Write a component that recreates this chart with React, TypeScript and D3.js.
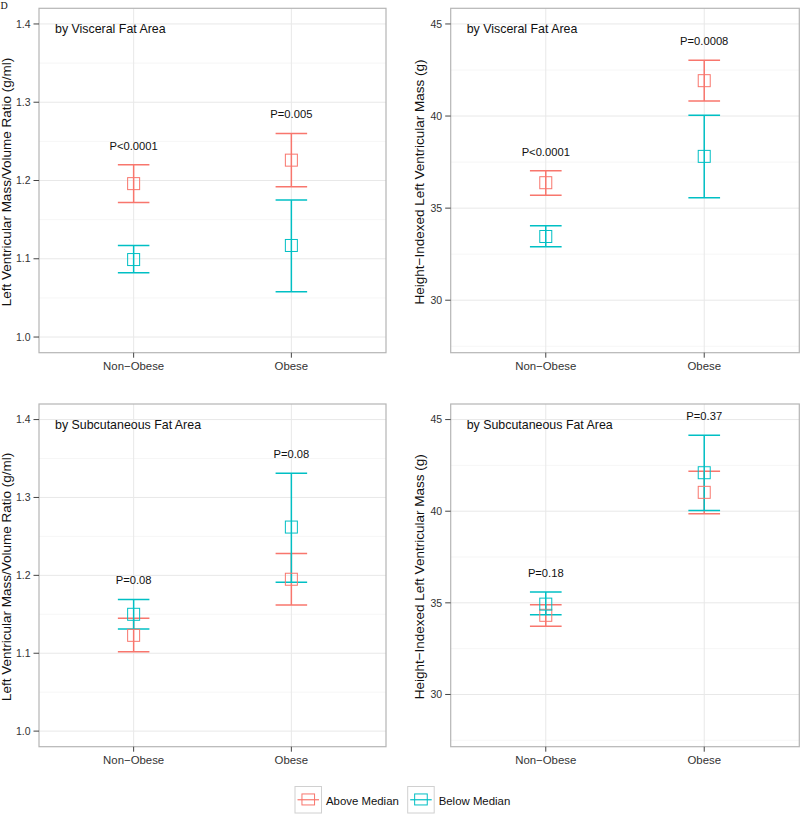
import React from "react";
import * as d3 from "d3";

// ---------- data ----------
const categories = ["Non−Obese", "Obese"];
const groups = ["Above Median", "Below Median"];
const groupColors = ["#F8766D", "#00BFC4"];

// each entry: [lower, mean, upper] for Non-Obese, Obese
const visceralRatioAbove = [[1.172, 1.196, 1.22], [1.192, 1.226, 1.26]];
const visceralRatioBelow = [[1.082, 1.099, 1.117], [1.058, 1.117, 1.175]];
const visceralRatioP = ["P<0.0001", "P=0.005"];

const visceralMassAbove = [[35.7, 36.38, 37.03], [40.82, 41.92, 43.03]];
const visceralMassBelow = [[32.9, 33.46, 34.04], [35.56, 37.81, 40.04]];
const visceralMassP = ["P<0.0001", "P=0.0008"];

const subcutRatioAbove = [[1.102, 1.123, 1.145], [1.162, 1.195, 1.228]];
const subcutRatioBelow = [[1.131, 1.15, 1.169], [1.191, 1.262, 1.331]];
const subcutRatioP = ["P=0.08", "P=0.08"];

const subcutMassAbove = [[33.72, 34.32, 34.9], [39.86, 41.03, 42.18]];
const subcutMassBelow = [[34.35, 34.93, 35.59], [40.04, 42.1, 44.15]];
const subcutMassP = ["P=0.18", "P=0.37"];

const ratioTicks = [1.0, 1.1, 1.2, 1.3, 1.4];
const ratioDomain = [0.98, 1.42];
const massTicks = [30, 35, 40, 45];
const massDomain = [27.15, 45.85];

const ratioTitle = "Left Ventricular Mass/Volume Ratio (g/ml)";
const massTitle = "Height−Indexed Left Ventricular Mass (g)";
const visceralLabel = "by Visceral Fat Area";
const subcutLabel = "by Subcutaneous Fat Area";

const FONT = "'Liberation Sans', Arial, Helvetica, sans-serif";

type PanelProps = {
  left: number;
  right: number;
  top: number;
  bottom: number;
  domain: number[];
  ticks: number[];
  fmt: (v: number) => string;
  title: string;
  titleX: number;
  label: string;
  above: number[][];
  below: number[][];
  pLabels: string[];
};

function Panel(p: PanelProps) {
  const x = d3.scaleLinear().domain([0.4, 2.6]).range([p.left, p.right]);
  const y = d3.scaleLinear().domain(p.domain).range([p.bottom, p.top]);
  const minor: number[] = [];
  const step = p.ticks[1] - p.ticks[0];
  for (let i = -1; i < p.ticks.length; i++) {
    const v = p.ticks[0] + step * (i + 0.5);
    if (v > p.domain[0] && v < p.domain[1]) minor.push(v);
  }
  const series = [p.above, p.below];
  const capHalf = x(1.1) - x(1);
  const sq = 12;
  return (
    <g>
      <rect x={p.left} y={p.top} width={p.right - p.left} height={p.bottom - p.top} fill="#fff" />
      {minor.map((v, i) => (
        <line key={"mn" + i} x1={p.left} x2={p.right} y1={y(v)} y2={y(v)} stroke="#f4f4f4" strokeWidth={0.8} />
      ))}
      {p.ticks.map((v, i) => (
        <line key={"mj" + i} x1={p.left} x2={p.right} y1={y(v)} y2={y(v)} stroke="#e8e8e8" strokeWidth={1} />
      ))}
      {categories.map((c, i) => (
        <line key={"vx" + i} x1={x(i + 1)} x2={x(i + 1)} y1={p.top} y2={p.bottom} stroke="#e8e8e8" strokeWidth={1} />
      ))}
      <rect x={p.left} y={p.top} width={p.right - p.left} height={p.bottom - p.top} fill="none" stroke="#b5b5b5" strokeWidth={1.2} />
      {/* y axis */}
      {p.ticks.map((v, i) => (
        <g key={"yt" + i}>
          <line x1={p.left - 5.5} x2={p.left} y1={y(v)} y2={y(v)} stroke="#444" strokeWidth={1} />
          <text x={p.left - 8.5} y={y(v)} dy="0.35em" textAnchor="end" fontSize={10.5} fill="#333" fontFamily={FONT}>
            {p.fmt(v)}
          </text>
        </g>
      ))}
      {/* x axis */}
      {categories.map((c, i) => (
        <g key={"xt" + i}>
          <line x1={x(i + 1)} x2={x(i + 1)} y1={p.bottom} y2={p.bottom + 5} stroke="#444" strokeWidth={1} />
          <text x={x(i + 1)} y={p.bottom + 13.5} dy="0.35em" textAnchor="middle" fontSize={11.4} fill="#333" fontFamily={FONT}>
            {c}
          </text>
        </g>
      ))}
      <text
        transform={`translate(${p.titleX},${(p.top + p.bottom) / 2 + 1.5}) rotate(-90)`}
        textAnchor="middle"
        fontSize={13.5}
        fill="#111"
        fontFamily={FONT}
      >
        {p.title}
      </text>
      <text x={p.left + 16} y={p.top + 20.5} dy="0.35em" fontSize={12.4} fill="#111" fontFamily={FONT}>
        {p.label}
      </text>
      {/* error bars */}
      {series.map((s, g) =>
        s.map((d, i) => (
          <g key={"eb" + g + "-" + i} stroke={groupColors[g]} strokeWidth={1.5} fill="none">
            <line x1={x(i + 1)} x2={x(i + 1)} y1={y(d[0])} y2={y(d[2])} />
            <line x1={x(i + 1) - capHalf} x2={x(i + 1) + capHalf} y1={y(d[0])} y2={y(d[0])} />
            <line x1={x(i + 1) - capHalf} x2={x(i + 1) + capHalf} y1={y(d[2])} y2={y(d[2])} />
          </g>
        ))
      )}
      {/* points */}
      {series.map((s, g) =>
        s.map((d, i) => (
          <rect
            key={"pt" + g + "-" + i}
            x={x(i + 1) - sq / 2}
            y={y(d[1]) - sq / 2}
            width={sq}
            height={sq}
            fill="none"
            stroke={groupColors[g]}
            strokeWidth={1}
          />
        ))
      )}
      {/* p labels */}
      {p.pLabels.map((t, i) => {
        const top = Math.max(p.above[i][2], p.below[i][2]);
        return (
          <text key={"pl" + i} x={x(i + 1)} y={y(top) - 19} dy="0.35em" textAnchor="middle" fontSize={11.2} fill="#111" fontFamily={FONT}>
            {t}
          </text>
        );
      })}
    </g>
  );
}

export default function App() {
  const fmt1 = d3.format(".1f");
  const fmt0 = d3.format("d");
  const L = { left: 39, right: 386 };
  const R = { left: 450.7, right: 799.3 };
  const T = { top: 8.3, bottom: 352.7 };
  const B = { top: 404, bottom: 746.7 };
  const keyX = [295, 407.7];
  const keyY = 786.5;
  const keySize = 26.5;
  return (
    <svg width={800} height={815} style={{ position: "absolute", left: 0, top: 0, background: "#fff" }}>
      <rect width={800} height={815} fill="#fff" />
      <text x={0.5} y={8.5} fontSize={10} fontFamily="'Liberation Serif', 'Times New Roman', serif" fill="#111">
        D
      </text>
      <Panel {...L} {...T} domain={ratioDomain} ticks={ratioTicks} fmt={fmt1} title={ratioTitle} titleX={10.8}
        label={visceralLabel} above={visceralRatioAbove} below={visceralRatioBelow} pLabels={visceralRatioP} />
      <Panel {...R} {...T} domain={massDomain} ticks={massTicks} fmt={fmt0} title={massTitle} titleX={424}
        label={visceralLabel} above={visceralMassAbove} below={visceralMassBelow} pLabels={visceralMassP} />
      <Panel {...L} {...B} domain={ratioDomain} ticks={ratioTicks} fmt={fmt1} title={ratioTitle} titleX={10.8}
        label={subcutLabel} above={subcutRatioAbove} below={subcutRatioBelow} pLabels={subcutRatioP} />
      <Panel {...R} {...B} domain={massDomain} ticks={massTicks} fmt={fmt0} title={massTitle} titleX={424}
        label={subcutLabel} above={subcutMassAbove} below={subcutMassBelow} pLabels={subcutMassP} />
      {/* legend */}
      {groups.map((g, i) => (
        <g key={"lg" + i}>
          <rect x={keyX[i]} y={keyY} width={keySize} height={keySize} fill="#fff" stroke="#d0d0d0" strokeWidth={1} />
          <line x1={keyX[i] + 2.5} x2={keyX[i] + keySize - 2.5} y1={keyY + keySize / 2} y2={keyY + keySize / 2}
            stroke={groupColors[i]} strokeWidth={1.2} />
          <rect x={keyX[i] + keySize / 2 - 6.3} y={keyY + keySize / 2 - 5.8} width={12.6} height={11} fill="none"
            stroke={groupColors[i]} strokeWidth={1} />
          <text x={keyX[i] + keySize + 4.5} y={keyY + keySize / 2 + 1.5} dy="0.35em" fontSize={11.4} fill="#111" fontFamily={FONT}>
            {g}
          </text>
        </g>
      ))}
    </svg>
  );
}
